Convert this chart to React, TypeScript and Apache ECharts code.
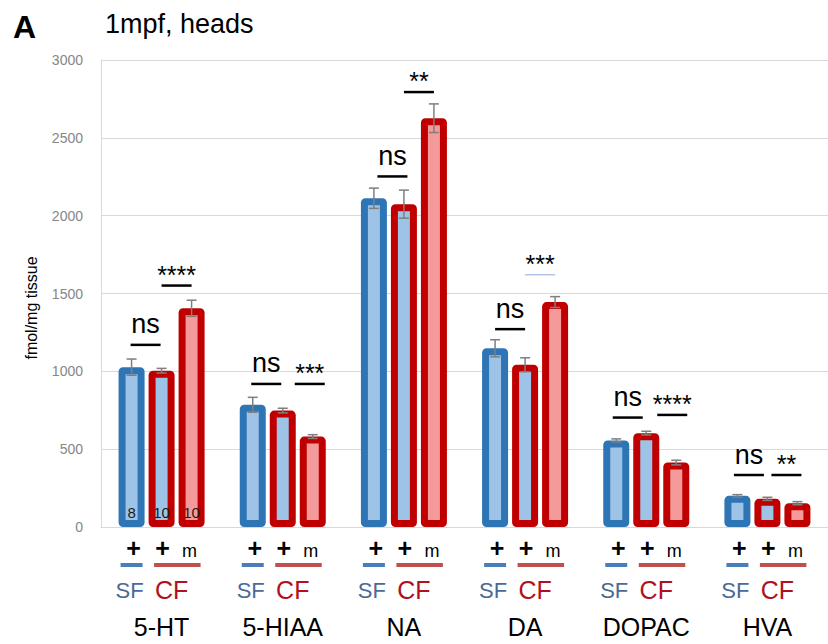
import React, { useEffect, useRef } from "react";
import * as echarts from "echarts";

// ---------- data ----------
const categories = ["5-HT", "5-HIAA", "NA", "DA", "DOPAC", "HVA"];
const sfPlus = [1027, 785, 2112, 1148, 556, 200];
const cfPlus = [1004, 748, 2074, 1042, 603, 181];
const cfM = [1405, 581, 2626, 1445, 414, 153];
const sfPlusErr = [52, 48, 65, 55, 10, 8];
const cfPlusErr = [15, 15, 90, 45, 12, 10];
const cfMErr = [52, 12, 92, 35, 15, 10];
const yTicks = [0, 500, 1000, 1500, 2000, 2500, 3000];
const nLabels = ["8", "10", "10"]; // sample sizes shown in 5-HT bars
const sigCats = [0, 0, 1, 1, 2, 2, 3, 3, 4, 4, 5, 5];
const sigPairs = [0, 1, 0, 1, 0, 1, 0, 1, 0, 1, 0, 1];
const sigHeights = [1170, 1551, 919, 919, 2252, 2794, 1271, 1620, 703, 720, 334, 334];
const sigLabels = ["ns", "****", "ns", "***", "ns", "**", "ns", "***", "ns", "****", "ns", "**"];
const groupTopLabels = ["+", "+", "m"];
const groupBottomLabels = ["SF", "CF"];

// ---------- layout / style constants ----------
const BAR_STEP = 30;
const sigShift = [-1, 0, -1.5, 12, 3.5, 0, 0, 0, -3.5, 11, -3.5, 4];
const thinSig = [7];
const FONT = "'Liberation Sans', Arial, sans-serif";
const BLUE_BORDER = "#2E75B6";
const BLUE_FILL = "#9DC3E6";
const RED_BORDER = "#C00000";
const RED_FILL = "#F59A9A";

export default function App() {
  const ref = useRef<HTMLDivElement>(null);

  useEffect(() => {
    if (!ref.current) return;
    const chart = echarts.init(ref.current, null, { renderer: "svg" });

    const errData: number[][] = [];
    const vals = [sfPlus, cfPlus, cfM];
    const errs = [sfPlusErr, cfPlusErr, cfMErr];
    categories.forEach((_, ci) => {
      for (let s = 0; s < 3; s++) errData.push([ci, vals[s][ci], s, errs[s][ci]]);
    });

    const sigData = sigCats.map((c, i) => [c, sigHeights[i], sigPairs[i], i]);
    const nData = nLabels.map((_, i) => [0, 0, i]);

    const barBase = {
      type: "bar",
      barWidth: 26,
      barGap: "15.4%",
      z: 2,
    };

    const option: any = {
      animation: false,
      backgroundColor: "#ffffff",
      grid: { left: 101, right: -7, top: 60, bottom: 117, containLabel: false },
      xAxis: {
        type: "category",
        data: categories,
        axisTick: { show: false },
        axisLine: { show: true, lineStyle: { color: "#D9D9D9", width: 1 } },
        axisLabel: {
          margin: 100,
          verticalAlign: "middle",
          fontSize: 25,
          color: "#000000",
          fontFamily: FONT,
          interval: 0,
        },
        splitLine: { show: false },
      },
      yAxis: {
        type: "value",
        min: 0,
        max: 3000,
        interval: 500,
        axisLine: { show: true, lineStyle: { color: "#D9D9D9", width: 1 } },
        axisTick: { show: false },
        axisLabel: {
          color: "#868686",
          fontSize: 14,
          fontFamily: FONT,
          margin: 18,
          formatter: (v: number) => (yTicks.includes(v) ? String(v) : ""),
        },
        splitLine: { show: true, lineStyle: { color: "#D9D9D9", width: 1 } },
      },
      graphic: [
        {
          type: "text",
          left: 13,
          top: 11,
          style: { text: "A", font: `bold 32px ${FONT}`, fill: "#000" },
        },
        {
          type: "text",
          left: 105,
          top: 10,
          style: { text: "1mpf, heads", font: `27px ${FONT}`, fill: "#000" },
        },
        {
          type: "text",
          x: 31,
          y: 308,
          rotation: Math.PI / 2,
          style: {
            text: "fmol/mg tissue",
            font: `16px ${FONT}`,
            fill: "#000",
            align: "center",
            verticalAlign: "middle",
          },
        },
      ],
      series: [
        {
          ...barBase,
          name: "SF +",
          data: sfPlus,
          itemStyle: { color: BLUE_FILL, borderColor: BLUE_BORDER, borderWidth: 7, borderRadius: 1 },
        },
        {
          ...barBase,
          name: "CF +",
          data: cfPlus,
          itemStyle: { color: BLUE_FILL, borderColor: RED_BORDER, borderWidth: 7, borderRadius: 1 },
        },
        {
          ...barBase,
          name: "CF m",
          data: cfM,
          itemStyle: { color: RED_FILL, borderColor: RED_BORDER, borderWidth: 7, borderRadius: 1 },
        },
        {
          type: "custom",
          name: "errors",
          z: 5,
          clip: false,
          data: errData,
          encode: { x: 0, y: 1 },
          renderItem: (params: any, api: any) => {
            const ci = api.value(0);
            const v = api.value(1);
            const s = api.value(2);
            const e = api.value(3);
            const off = (s - 1) * BAR_STEP;
            const top = api.coord([ci, v + e]);
            const bot = api.coord([ci, v - e]);
            const x = top[0] + off;
            const st = { stroke: "#7F7F7F", lineWidth: 1.5 };
            return {
              type: "group",
              children: [
                { type: "line", shape: { x1: x, y1: top[1], x2: x, y2: bot[1] }, style: st },
                { type: "line", shape: { x1: x - 5, y1: top[1], x2: x + 5, y2: top[1] }, style: st },
                { type: "line", shape: { x1: x - 5, y1: bot[1], x2: x + 5, y2: bot[1] }, style: st },
              ],
            };
          },
        },
        {
          type: "custom",
          name: "significance",
          z: 6,
          clip: false,
          data: sigData,
          encode: { x: 0, y: 1 },
          renderItem: (params: any, api: any) => {
            const ci = api.value(0);
            const h = api.value(1);
            const pair = api.value(2);
            const idx = api.value(3);
            const p = api.coord([ci, h]);
            const shift = sigShift[idx];
            const x1 = p[0] + (pair === 0 ? -BAR_STEP : 0) + shift;
            const x2 = x1 + BAR_STEP;
            const label = sigLabels[idx];
            const isNs = label === "ns";
            const thin = thinSig.includes(idx);
            return {
              type: "group",
              children: [
                {
                  type: "line",
                  shape: { x1, y1: p[1], x2, y2: p[1] },
                  style: thin
                    ? { stroke: "#8EA9DB", lineWidth: 1 }
                    : { stroke: "#000", lineWidth: 2.5 },
                },
                {
                  type: "text",
                  x: (x1 + x2) / 2,
                  y: p[1] - (isNs ? 20.5 : 11),
                  style: {
                    text: label,
                    font: `${isNs ? 27 : 25}px ${FONT}`,
                    fill: "#000",
                    align: "center",
                    verticalAlign: "middle",
                  },
                },
              ],
            };
          },
        },
        {
          type: "custom",
          name: "n",
          z: 6,
          clip: false,
          data: nData,
          encode: { x: 0, y: 1 },
          renderItem: (params: any, api: any) => {
            const ci = api.value(0);
            const s = api.value(2);
            const p = api.coord([ci, 0]);
            return {
              type: "text",
              x: p[0] + (s - 1) * BAR_STEP,
              y: p[1] - 14.5,
              style: {
                text: nLabels[params.dataIndex],
                font: `15px ${FONT}`,
                fill: "#1a1a1a",
                align: "center",
                verticalAlign: "middle",
              },
            };
          },
        },
        {
          type: "custom",
          name: "groups",
          z: 6,
          clip: false,
          data: categories.map((_, i) => [i, 0]),
          encode: { x: 0, y: 1 },
          renderItem: (params: any, api: any) => {
            const ci = api.value(0);
            const p = api.coord([ci, 0]);
            const c = p[0];
            const y0 = p[1];
            return {
              type: "group",
              children: [
                {
                  type: "text",
                  x: c - 28,
                  y: y0 + 20.5,
                  style: { text: groupTopLabels[0], font: `bold 25px ${FONT}`, fill: "#000", align: "center", verticalAlign: "middle" },
                },
                {
                  type: "text",
                  x: c + 1,
                  y: y0 + 20.5,
                  style: { text: groupTopLabels[1], font: `bold 25px ${FONT}`, fill: "#000", align: "center", verticalAlign: "middle" },
                },
                {
                  type: "text",
                  x: c + 28,
                  y: y0 + 23.5,
                  style: { text: groupTopLabels[2], font: `18px ${FONT}`, fill: "#000", align: "center", verticalAlign: "middle" },
                },
                {
                  type: "rect",
                  shape: { x: c - 41, y: y0 + 36, width: 22, height: 4 },
                  style: { fill: "#4A7EBB" },
                },
                {
                  type: "rect",
                  shape: { x: c - 7.5, y: y0 + 36, width: 46.5, height: 4 },
                  style: { fill: "#C0504D" },
                },
                {
                  type: "text",
                  x: c - 32,
                  y: y0 + 63.5,
                  style: { text: groupBottomLabels[0], font: `22px ${FONT}`, fill: "#4A6A96", align: "center", verticalAlign: "middle" },
                },
                {
                  type: "text",
                  x: c + 10,
                  y: y0 + 63,
                  style: { text: groupBottomLabels[1], font: `25px ${FONT}`, fill: "#B01020", align: "center", verticalAlign: "middle" },
                },
              ],
            };
          },
        },
      ],
    };

    chart.setOption(option);
    return () => chart.dispose();
  }, []);

  return (
    <div
      ref={ref}
      style={{ position: "fixed", left: 0, top: 0, width: 828, height: 644, background: "#fff" }}
    />
  );
}
